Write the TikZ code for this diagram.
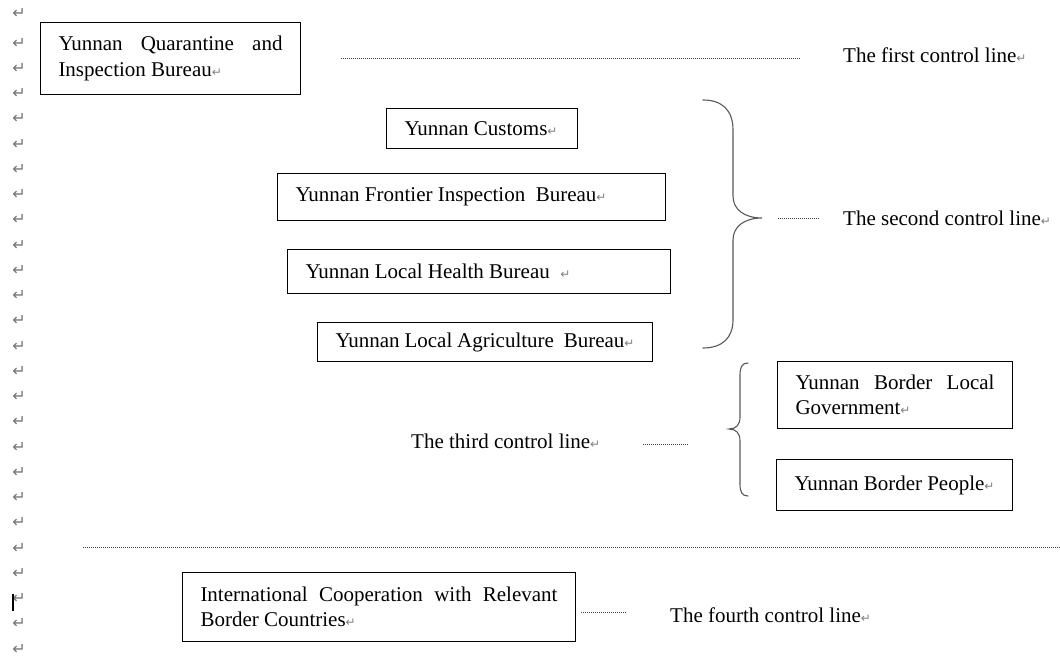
\documentclass[tikz,border=0pt]{standalone}
\usepackage{fontspec}
\setmainfont{Liberation Serif}
\newfontfamily\markfont{DejaVu Sans}
\newcommand{\pmark}{{\markfont\fontsize{12}{12}\selectfont\textcolor{gray}{↵}}}
\newcommand{\bigpmark}{{\markfont\fontsize{16}{16}\selectfont\textcolor{black!55}{↵}}}
\hyphenpenalty=10000
\exhyphenpenalty=10000

\begin{document}
\begin{tikzpicture}[x=1pt,y=-1pt,
    ctrlbox/.style={draw,line width=1pt,anchor=north west,inner xsep=18pt,inner ysep=0pt,
        align=justify,font=\fontsize{21}{25.5}\selectfont},
    ctrllabel/.style={anchor=west,inner sep=0pt,font=\fontsize{21}{25.5}\selectfont},
    ctrldots/.style={line width=0.9pt,dash pattern=on 1pt off 1pt,black!75},
    ctrlbrace/.style={line width=1.1pt,black!65,line cap=round}]

% page size
    \useasboundingbox (0,0) rectangle (1060,660);

% paragraph marks down the left margin
    \node[inner sep=0pt] (mtop) at (19,13) {\bigpmark};
    \foreach \k in {0,...,24}
        \node[inner sep=0pt] (m\k) at (19,43+25.25*\k) {\bigpmark};
    \draw[line width=2.5pt] (13,594) -- (13,611);

% first control line
    \node[ctrlbox,text width=224pt,minimum height=72pt] (quarantine) at (40,22)
        {Yunnan Quarantine and Inspection Bureau\pmark};
    \node[ctrllabel] (first) at (843,55) {The first control line\pmark};
    \coordinate (d1a) at (341,58);
    \coordinate (d1b) at (800,58);
    \draw[ctrldots] (d1a) -- (d1b);

% second control line
    \node[ctrlbox,text width=155pt,minimum height=40pt] (customs) at (386,108)
        {Yunnan Customs\pmark};
    \node[ctrlbox,text width=352pt,minimum height=47pt] (frontier) at (277,173)
        {Yunnan Frontier Inspection\ \ Bureau\pmark};
    \node[ctrlbox,text width=347pt,minimum height=44pt] (health) at (287,249)
        {Yunnan Local Health Bureau\ \ \pmark};
    \node[ctrlbox,text width=299pt,minimum height=39pt] (agriculture) at (317,322)
        {Yunnan Local Agriculture\ \ Bureau\pmark};
    \draw[ctrlbrace] (703,100) .. controls (722,100) and (733,110) .. (733,130)
        -- (733,196) .. controls (733,210) and (745,218) .. (762,218)
        .. controls (745,218) and (733,226) .. (733,240)
        -- (733,320) .. controls (733,338) and (722,348) .. (703,348);
    \node[ctrllabel] (second) at (843,218) {The second control line\pmark};
    \coordinate (d2a) at (778,218);
    \coordinate (d2b) at (820,218);
    \draw[ctrldots] (d2a) -- (d2b);

% third control line
    \node[ctrlbox,text width=199pt,minimum height=67pt] (government) at (777,361)
        {Yunnan Border Local Government\pmark};
    \node[ctrlbox,text width=200pt,minimum height=51pt] (people) at (776,459)
        {Yunnan Border People\pmark};
    \draw[ctrlbrace] (748,363) .. controls (742,363) and (740,367) .. (740,375)
        -- (740,417) .. controls (740,425) and (736,429) .. (729,429)
        .. controls (736,429) and (740,433) .. (740,441)
        -- (740,484) .. controls (740,492) and (742,496) .. (748,496);
    \node[ctrllabel] (third) at (411,441) {The third control line\pmark};
    \coordinate (d3a) at (643,444);
    \coordinate (d3b) at (689,444);
    \draw[ctrldots] (d3a) -- (d3b);

% border between home and abroad
    \coordinate (d4a) at (83,547);
    \coordinate (d4b) at (1060,547);
    \draw[ctrldots] (d4a) -- (d4b);

% fourth control line
    \node[ctrlbox,text width=357pt,minimum height=69pt] (international) at (182,572)
        {International Cooperation with Relevant Border Countries\pmark};
    \node[ctrllabel] (fourth) at (670,615) {The fourth control line\pmark};
    \coordinate (d5a) at (581,612);
    \coordinate (d5b) at (627,612);
    \draw[ctrldots] (d5a) -- (d5b);

\end{tikzpicture}
\end{document}
